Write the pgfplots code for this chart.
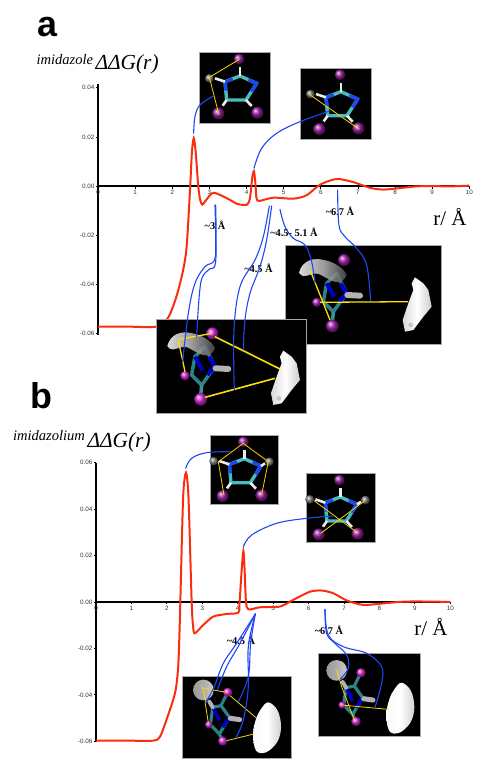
\documentclass[border=0pt]{standalone}
\usepackage{fontspec}
\setmainfont{Liberation Serif}
\newfontfamily\tickfont{Liberation Sans}
\usepackage{pgfplots}
\pgfplotsset{compat=1.18}
\definecolor{myred}{RGB}{250,45,15}
\definecolor{myblue}{RGB}{30,70,245}
\definecolor{myyellow}{RGB}{250,225,10}
\definecolor{mycyan}{RGB}{70,190,190}
\definecolor{myteal}{RGB}{45,130,135}
\definecolor{mypurple}{RGB}{150,30,160}
\definecolor{mymag}{RGB}{215,40,215}
\pgfplotsset{panel/.style={
  scale only axis, axis x line=middle, axis y line=left,
  axis line style={-,line width=1.4pt,black},
  xmin=0,xmax=10,
  scaled y ticks=false,
  hide obscured x ticks=false,
  hide obscured y ticks=false,
  xtick={0,1,2,3,4,5,6,7,8,9,10},
  xticklabels={0,1,2,3,4,5,6,7,8,9,10},
  tick align=outside, tick style={black,line width=0.8pt}, major tick length=2.5pt,
  tick label style={font=\tickfont\fontsize{6.3}{7}\selectfont,text=black!80},
  xticklabel style={yshift=-1.5pt},
  yticklabel style={xshift=-1.2pt},
  clip=false}}
\newcommand{\bluecurve}[1]{\draw[myblue,line width=1.1pt,line cap=round] plot[smooth,tension=0.6] coordinates {#1};}
% small top-view molecule
\newcommand{\smol}[3]{\begin{scope}[shift={(#1,#2)},x=0.3333bp,y=-0.3333bp]
  \draw[mycyan,line width=3.4pt,line join=round] (0,-42)--(50,-20)--(18,30)--(-40,30)--(-45,-25)--cycle;
  \draw[myblue,line width=3.2pt] (25,-31)--(50,-20)--(34,5);
  \draw[myblue,line width=3.2pt] (-22,-33)--(-45,-25)--(-42,2);
  \draw[white!85!gray,line width=2.6pt] (0,-42)--(0,-68);
  \draw[white!85!gray,line width=2.6pt] (-40,30)--(-52,47);
  \draw[white!85!gray,line width=2.6pt] (18,30)--(35,48);
  \draw[white!85!gray,line width=2.6pt] (-45,-25)--(-75,-35);
  \shade[ball color=mypurple] (-3,-93) circle (16);
  \shade[ball color=mypurple] (-65,70) circle (18);
  \shade[ball color=mypurple] (52,68) circle (18);
  \shade[ball color=gray] (-92,-35) circle (13);
  #3
\end{scope}}
% large molecule with density blobs
\newcommand{\bmol}[3]{\begin{scope}[shift={(#1,#2)},x=0.3333bp,y=-0.3333bp]
  \draw[myteal,line width=3.5pt,line join=round] (-22,40)--(8,100)--(-32,155)--(-62,125)--(-52,70)--cycle;
  \draw[myteal!70!mycyan,line width=3.5pt] (-32,155)--(-35,190);
  \draw[blue!80!black,line width=4pt] (-52,70)--(-30,110) (8,100)--(-15,125) (8,100)--(-10,70);
  \draw[gray!60,line width=6pt,line cap=round] (10,105)--(48,107);
  \shade[left color=white,right color=black!70,middle color=gray!55,opacity=0.85] (-135,38) .. controls (-125,0) and (-90,-8) .. (-60,0) .. controls (-30,5) and (0,25) .. (8,45) .. controls (-10,85) and (-40,60) .. (-75,42) .. controls (-100,35) and (-120,62) .. (-135,38) -- cycle;
  \shade[ball color=#3] (0,0) circle (18);
  \shade[ball color=#3] (-82,127) circle (14);
  \shade[ball color=#3] (-35,198) circle (19);
  \shade[left color=gray!30,right color=gray!40,middle color=white] (213,52)--(238,70)--(253,90)--(263,140)--(238,170)--(208,210)--(183,215)--(176,180)--(193,130)--(208,90)--(203,70)--cycle;
  \fill[gray!45] (200,195) circle (7);
\end{scope}}
\newcommand{\cmol}[3]{\begin{scope}[shift={(#1,#2)},x=0.3333bp,y=-0.3333bp]
  \shade[left color=gray!80,right color=gray!40,middle color=gray!65] (-73,-7) circle (31);
  \draw[myteal,line width=3.2pt,line join=round] (-20,40)--(5,75)--(-25,125)--(-52,97)--(-45,45)--cycle;
  \draw[blue!80!black,line width=3.4pt] (-45,45)--(-25,85) (5,75)--(-15,105);
  \draw[gray!60,line width=5pt,line cap=round] (8,78)--(36,82);
  \draw[gray!60,line width=4pt,line cap=round] (-45,45)--(-55,28);
  \draw[myteal,line width=3pt] (-25,125)--(-15,146) (-20,40)--(-3,5);
  \shade[ball color=mymag] (0,0) circle (14);
  \shade[ball color=mymag] (-57,97) circle (11);
  \shade[ball color=mymag] (-15,146) circle (14);
  \shade[left color=white!95!gray,right color=gray!35,middle color=white] plot[smooth cycle,tension=0.6] coordinates {(100,50)(122,30)(150,55)(160,105)(148,150)(115,180)(85,175)(76,125)(85,80)};
  #3
\end{scope}}
\begin{document}
\begin{tikzpicture}[x=1bp,y=-1bp,every node/.style={inner sep=0pt,outer sep=0pt}]
\useasboundingbox (0,0) rectangle (480,771);
% panel a
\begin{axis}[panel,at={(98bp,-335bp)},anchor=south west,
  width=371.3bp,height=251bp,ymin=-0.0605,ymax=0.0415,
  ytick={-0.06,-0.04,-0.02,0,0.02,0.04},
  yticklabels={-0.06,-0.04,-0.02,0.00,0.02,0.04}]
\addplot[myred,line width=2pt,smooth,tension=0.45] coordinates {
(0,-0.0571)(0.8,-0.0571)(1.57,-0.0571)(1.89,-0.0534)(2.12,-0.0445)(2.30,-0.0336)(2.39,-0.0241)(2.48,-0.001)
(2.53,0.014)(2.58,0.0195)(2.63,0.014)(2.70,0)(2.75,-0.0055)(2.81,-0.0075)(2.92,-0.0055)(3.11,-0.0027)(3.47,-0.0049)(3.75,-0.0072)(4.0,-0.0076)(4.09,-0.0052)
(4.15,0.003)(4.2,0.0061)(4.24,0.001)(4.27,-0.005)(4.35,-0.006)(4.72,-0.0047)(5.26,-0.0051)(5.62,-0.0037)(5.98,0.0006)
(6.43,0.0029)(6.88,0.0016)(7.33,-0.0007)(7.69,-0.0014)(8.13,-0.0008)(8.58,-0.0001)(9.03,0)(9.5,-0.0001)(10,0.0002)};
\end{axis}
% panel b
\begin{axis}[panel,at={(96bp,-742bp)},anchor=south west,
  width=354.3bp,height=279.5bp,ymin=-0.0603,ymax=0.0600,
  ytick={-0.06,-0.04,-0.02,0,0.02,0.04,0.06},
  yticklabels={-0.06,-0.04,-0.02,0.00,0.02,0.04,0.06}]
\addplot[myred,line width=2pt,smooth,tension=0.45] coordinates {
(0,-0.0597)(0.8,-0.0597)(1.62,-0.0597)(1.81,-0.0579)(1.99,-0.0507)(2.23,-0.0393)(2.32,-0.0278)(2.37,-0.0063)
(2.38,0)(2.46,0.0453)(2.54,0.0556)(2.61,0.045)(2.70,0)(2.74,-0.0105)(2.79,-0.0135)(3.03,-0.0099)(3.31,-0.0063)(3.69,-0.0052)(4.02,-0.0046)
(4.05,-0.0006)(4.16,0.0219)(4.23,0.0009)(4.30,-0.0032)(4.63,-0.0023)(5.19,-0.002)(5.57,0.0009)(6.04,0.0044)(6.37,0.0049)(6.7,0.0037)(7.08,0.0006)
(7.54,-0.0013)(8.0,-0.0008)(8.56,0)(9.03,0.0002)(10,0)};
\end{axis}
% black image panels
\fill[black,draw=gray!70,line width=0.4pt] (199.3,52) rectangle (270,123);
\fill[black,draw=gray!70,line width=0.4pt] (300.5,68) rectangle (371.5,139);
\fill[black,draw=gray!70,line width=0.4pt] (285,245) rectangle (440.7,344);
\fill[black,draw=gray!70,line width=0.4pt] (156.3,318.7) rectangle (306.3,413.3);
\fill[black,draw=gray!70,line width=0.4pt] (210.3,435) rectangle (278.3,503.7);
\fill[black,draw=gray!70,line width=0.4pt] (306.3,473) rectangle (374.7,541.7);
\fill[black,draw=gray!70,line width=0.4pt] (182,676) rectangle (290.7,758);
\fill[black,draw=gray!70,line width=0.4pt] (317.7,653.3) rectangle (420.3,736.3);
% molecules
\smol{240}{90}{\draw[myyellow!85!orange,line width=0.8pt] (-2,-92)--(-92,-38)--(-63,75);}
\smol{341}{105.7}{\draw[myyellow!85!orange,line width=0.8pt] (-95,-34)--(55,71);}
\smol{244.3}{472.7}{\shade[ball color=gray] (75,-33) circle (13);\draw[white!85!gray,line width=2.6pt] (50,-20)--(62,-28);\draw[myyellow!85!orange,line width=0.8pt] (-61,67)--(-78,-33)--(-3,-88)--(72,-33)--(52,67);}
\smol{340.3}{511}{\shade[ball color=gray] (75,-33) circle (13);\draw[white!85!gray,line width=2.6pt] (50,-20)--(62,-28);\draw[myyellow!85!orange,line width=0.8pt] (-79,-31)--(54,67) (74,-31)--(-59,67);}
\bmol{344}{260}{mypurple!70!mymag}
\bmol{212.3}{333.3}{mymag}
\draw[myyellow,line width=1.3pt] (310,270)--(330,320) (320,302.3)--(408,301.7);
\draw[myyellow,line width=1.3pt] (179.3,339.3)--(212.3,333.3) (178.3,340)--(185,371.7);
\draw[myyellow,line width=1.6pt] (215,336.7)--(280,369) (205,397.3)--(275,378.3);
\cmol{227.7}{692.3}{\draw[myyellow!90!orange,line width=0.8pt] (-73,-12)--(-3,0) (-78,-22)--(-65,31) (-68,28)--(-58,93) (7,10)--(87,78) (-3,145)--(79,125);}
\cmol{361}{672.7}{\draw[myyellow!90!orange,line width=0.8pt] (-73,-8)--(-58,42)--(-18,147) (-58,97)--(82,110);}
% text
\node[font=\tickfont\bfseries\fontsize{36}{36}\selectfont,anchor=center] at (47.5,27) {a};
\node[font=\tickfont\bfseries\fontsize{36}{36}\selectfont,anchor=center] at (41,396) {b};
\node[font=\itshape\fontsize{14.6}{15}\selectfont,anchor=base west] at (36.5,65) {imidazole};
\node[font=\itshape\fontsize{21.5}{22}\selectfont,anchor=base west] at (95.5,70) {ΔΔG(r)};
\node[font=\itshape\fontsize{14.6}{15}\selectfont,anchor=base west] at (13,440) {imidazolium};
\node[font=\itshape\fontsize{21.5}{22}\selectfont,anchor=base west] at (87.5,447) {ΔΔG(r)};
\node[font=\fontsize{21}{22}\selectfont,anchor=center] at (450,217) {r/ Å};
\node[font=\fontsize{21}{22}\selectfont,anchor=center] at (431,627) {r/ Å};
\node[font=\bfseries\fontsize{10.4}{11}\selectfont] at (215,225) {\textasciitilde 3 Å};
\node[font=\bfseries\fontsize{10.4}{11}\selectfont] at (294,232.5) {\textasciitilde 4.5- 5.1 Å};
\node[font=\bfseries\fontsize{10.4}{11}\selectfont] at (340,211.5) {\textasciitilde 6.7 Å};
\node[font=\bfseries\fontsize{10.4}{11}\selectfont] at (258.5,268) {\textasciitilde 4.5 Å};
\node[font=\bfseries\fontsize{10.4}{11}\selectfont] at (241,640) {\textasciitilde 4.5 Å};
\node[font=\bfseries\fontsize{10.4}{11}\selectfont] at (329,630) {\textasciitilde 6.7 Å};
% connectors (reference px coordinates scaled from 3x crops)
\begin{scope}[x=0.3333bp,y=-0.3333bp]
\bluecurve{(581,400)(585,350)(600,315)(640,288)}
\bluecurve{(762,505)(785,445)(830,400)(900,365)(990,333)}
\end{scope}
\begin{scope}[shift={(80,170)},x=0.3333bp,y=-0.3333bp]
\bluecurve{(405,105)(407,200)(404,270)(375,290)(345,340)(325,430)(308,575)}
\bluecurve{(407,105)(407,275)(385,300)(362,340)(350,500)}
\bluecurve{(568,108)(550,200)(525,270)(480,350)(462,480)(463,660)}
\bluecurve{(575,108)(560,210)(540,290)(510,370)(495,450)(490,540)}
\bluecurve{(600,118)(615,170)(640,205)(675,225)(695,275)(705,340)}
\bluecurve{(773,60)(777,165)(795,200)(830,235)(860,285)(872,392)}
\end{scope}
\begin{scope}[shift={(0,380)},x=0.3333bp,y=-0.3333bp]
\bluecurve{(557,265)(575,235)(620,218)(692,215)}
\bluecurve{(730,500)(755,465)(830,430)(920,415)(1000,408)}
\end{scope}
\begin{scope}[shift={(80,590)},x=0.3333bp,y=-0.3333bp]
\bluecurve{(526,72)(470,160)(430,220)(403,290)(377,338)}
\bluecurve{(526,72)(480,160)(440,230)(412,300)}
\bluecurve{(526,72)(512,160)(505,260)(475,335)}
\bluecurve{(526,72)(505,170)(505,290)(490,390)(468,442)}
\bluecurve{(735,58)(740,130)(765,160)(800,195)(805,235)(780,268)}
\bluecurve{(735,58)(745,135)(790,170)(860,190)(905,230)(905,280)(885,352)}
\end{scope}
\end{tikzpicture}
\end{document}
